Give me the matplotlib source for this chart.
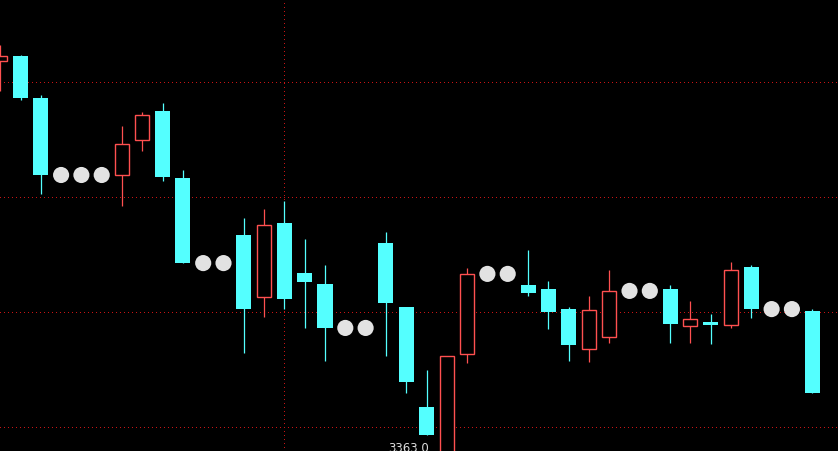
# Velas diarias con días sin negociación (puntos) sobre fondo negro
import numpy as np
import matplotlib.pyplot as plt

# ----------------------------------------------
# Datos (None = día sin negociación)
# ----------------------------------------------
opens = [3534.3, 3536.4, 3518.2, None, None, None, 3484.7, 3499.9, 3512.5, 3483.4,
         None, None, 3458.6, 3431.7, 3463.8, 3442.1, 3437.3, None, None, 3455.1,
         3427.3, 3383.8, 3363.8, 3406.9, None, None, 3436.9, 3435.1, 3426.4, 3409.1,
         3414.3, None, None, 3435.1, 3419.1, 3420.8, 3419.5, 3444.7, None, None,
         3425.6]
highs = [3541.2, 3536.9, 3519.5, None, None, None, 3506.0, 3512.1, 3516.0, 3486.9,
         None, None, 3466.0, 3469.9, 3473.4, 3456.9, 3445.6, None, None, 3459.9,
         3427.3, 3399.9, 3406.0, 3444.3, None, None, 3452.1, 3438.6, 3427.3, 3432.1,
         3443.4, None, None, 3436.9, 3429.9, 3424.3, 3446.9, 3445.6, None, None,
         3426.4]
lows = [3521.2, 3517.3, 3476.4, None, None, None, 3471.2, 3495.1, 3482.1, 3446.4,
        None, None, 3407.3, 3423.0, 3426.4, 3418.2, 3403.8, None, None, 3406.0,
        3389.9, 3371.7, 3363.0, 3403.0, None, None, 3432.1, 3417.7, 3403.8, 3403.4,
        3411.7, None, None, 3411.7, 3411.7, 3411.2, 3418.2, 3422.5, None, None,
        3389.9]
closes = [3536.4, 3518.2, 3484.7, None, None, None, 3498.2, 3510.8, 3483.8, 3446.4,
          None, None, 3426.4, 3463.0, 3430.8, 3438.2, 3418.2, None, None, 3429.1,
          3394.7, 3371.7, 3406.0, 3441.7, None, None, 3433.4, 3425.1, 3410.8, 3426.0,
          3434.3, None, None, 3419.9, 3422.1, 3419.5, 3443.4, 3426.4, None, None,
          3389.9]
grid_levels = [3375, 3425, 3475, 3525]
grid_x = 14

o = np.array(opens, dtype=float)
h = np.array(highs, dtype=float)
l = np.array(lows, dtype=float)
c = np.array(closes, dtype=float)
idx = np.arange(len(o))

UP = '#ff5050'
DOWN = '#54ffff'
GRID = '#c81414'
W = 0.74

fig = plt.figure(figsize=(8.38, 4.52), dpi=100, facecolor='black')
ax = fig.add_axes([0, 0, 1, 1])
ax.set_facecolor('black')

# rejilla punteada (un píxel encendido, tres apagados)
for g in grid_levels:
    ax.axhline(g, color=GRID, lw=0.72, ls=(0, (1, 3)), antialiased=False, zorder=0)
ax.axvline(grid_x, color=GRID, lw=0.72, ls=(0, (1, 3)), antialiased=False, zorder=0)

traded = ~np.isnan(o)
up = traded & (c >= o)
down = traded & (c < o)

# velas bajistas: rellenas
ax.vlines(idx[down], l[down], h[down], color=DOWN, lw=0.9, zorder=2)
ax.bar(idx[down], np.maximum(o[down] - c[down], 0.6), bottom=c[down], width=W,
       color=DOWN, edgecolor=DOWN, lw=0, zorder=3)

# velas alcistas: huecas
ax.vlines(idx[up], c[up], h[up], color=UP, lw=0.9, zorder=2)
ax.vlines(idx[up], l[up], o[up], color=UP, lw=0.9, zorder=2)
ax.bar(idx[up], c[up] - o[up], bottom=o[up], width=W - 0.05,
       facecolor='black', edgecolor=UP, lw=1.0, zorder=3)

# días sin negociación: punto al último cierre
last = None
dot_x, dot_y = [], []
for i in idx:
    if traded[i]:
        last = c[i]
    else:
        dot_x.append(i)
        dot_y.append(last)
ax.scatter(dot_x, dot_y, s=135, color='#e2e2e2', edgecolors='none', zorder=4)

# marca del mínimo (queda medio cortada en el borde inferior, como en la captura)
imin = int(np.nanargmin(l))
ax.annotate(f'{l[imin]:.1f}.', xy=(imin, l[imin]), xytext=(-10.5, 5),
            textcoords='offset points', color='#dcdcdc', fontsize=8.5,
            ha='right', va='center', zorder=5, annotation_clip=False)

ax.set_xlim(-0.01, 41.27)
ax.set_ylim(3364.70, 3561.22)
ax.axis('off')

fig.savefig('out.png', dpi=100, facecolor='black')
plt.close(fig)
